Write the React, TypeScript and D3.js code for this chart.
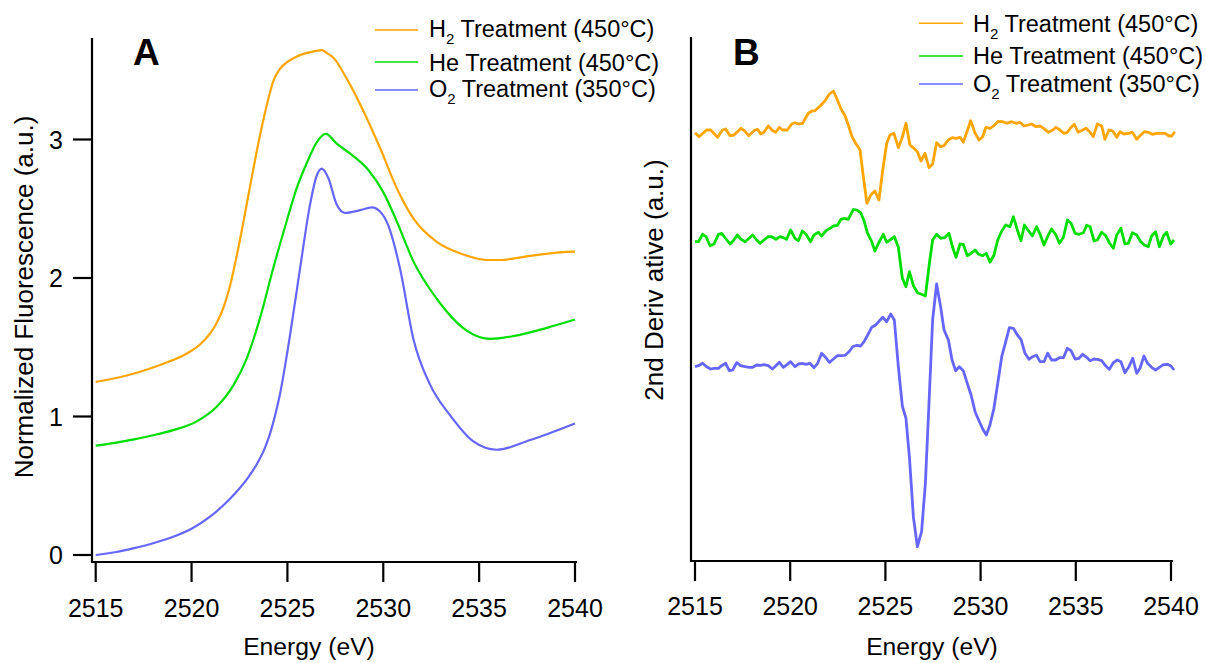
import React from 'react';
import * as d3 from 'd3';

// ---------- shared axis values ----------
const energyTicks = [2515, 2520, 2525, 2530, 2535, 2540];
const fluorTicks = [0, 1, 2, 3];

const seriesColors = ['#ffa500', '#00dd00', '#6666ff'];
const legendLabels = [
  { head: 'H', sub: '2', tail: ' Treatment (450°C)' },
  { head: 'He Treatment (450°C)', sub: '', tail: '' },
  { head: 'O', sub: '2', tail: ' Treatment (350°C)' },
];

// ---------- Panel A: normalized XANES [energy eV, fluorescence a.u.] ----------
const h2Xanes: [number, number][] = [
  [2515.0, 1.25], [2516.3, 1.285], [2517.0, 1.31], [2517.8, 1.345], [2518.6, 1.385],
  [2519.4, 1.43], [2520.0, 1.475], [2520.44, 1.52], [2521.0, 1.605], [2521.31, 1.675],
  [2521.7, 1.8], [2522.0, 1.94], [2522.53, 2.28], [2523.05, 2.66], [2523.57, 3.03],
  [2524.0, 3.29], [2524.26, 3.42], [2524.61, 3.51], [2525.0, 3.56], [2525.49, 3.6],
  [2526.18, 3.63], [2526.79, 3.645], [2527.1, 3.62], [2527.4, 3.59], [2528.09, 3.44],
  [2528.88, 3.23], [2529.83, 2.94], [2530.7, 2.65], [2531.57, 2.43], [2532.79, 2.26],
  [2534.18, 2.17], [2535.4, 2.13], [2536.09, 2.13], [2537.66, 2.16], [2539.91, 2.19],
  [2540.0, 2.19],
];

const heXanes: [number, number][] = [
  [2515.0, 0.79], [2516.0, 0.81], [2517.0, 0.835], [2518.0, 0.865], [2519.0, 0.9],
  [2520.27, 0.965], [2521.31, 1.07], [2522.18, 1.225], [2522.88, 1.42],
  [2523.57, 1.71], [2524.26, 2.07], [2524.96, 2.41], [2525.49, 2.65], [2526.01, 2.83],
  [2526.53, 2.98], [2527.0, 3.04], [2527.57, 2.97], [2528.44, 2.88], [2529.22, 2.78],
  [2530.0, 2.62], [2530.7, 2.41], [2531.57, 2.12], [2532.79, 1.85], [2534.35, 1.62],
  [2535.57, 1.56], [2536.78, 1.58], [2538.53, 1.64], [2540.0, 1.7],
];

const o2Xanes: [number, number][] = [
  [2515.0, 0.0], [2516.0, 0.02], [2517.0, 0.05], [2518.0, 0.085], [2519.0, 0.13],
  [2520.0, 0.19], [2521.0, 0.28], [2521.7, 0.365], [2522.3, 0.45], [2522.9, 0.55],
  [2523.4, 0.655], [2523.8, 0.765], [2524.09, 0.875], [2524.61, 1.16], [2525.14, 1.59],
  [2525.66, 2.07], [2526.18, 2.53], [2526.53, 2.74], [2526.79, 2.79], [2527.14, 2.72],
  [2527.57, 2.53], [2528.0, 2.47], [2528.79, 2.49], [2529.4, 2.51], [2529.83, 2.48],
  [2530.26, 2.38], [2530.87, 2.07], [2531.57, 1.56], [2532.44, 1.23], [2533.48, 1.01],
  [2534.7, 0.82], [2535.92, 0.76], [2537.66, 0.83], [2540.0, 0.95],
];

// ---------- Panel B: second derivative [energy eV, offset a.u.] ----------
const h2Deriv: [number, number][] = [
  [2515.0, 4.283], [2515.21, 4.243], [2515.61, 4.31], [2515.82, 4.31], [2516.19, 4.237],
  [2516.44, 4.31], [2516.61, 4.32], [2516.84, 4.253], [2517.05, 4.26], [2517.42, 4.327],
  [2517.59, 4.303], [2517.82, 4.253], [2518.15, 4.31], [2518.29, 4.317], [2518.45, 4.27],
  [2518.62, 4.287], [2518.85, 4.35], [2519.08, 4.303], [2519.24, 4.287], [2519.43, 4.337],
  [2519.6, 4.31], [2519.85, 4.31], [2520.08, 4.37], [2520.25, 4.383], [2520.43, 4.37],
  [2520.65, 4.377], [2520.95, 4.477], [2521.13, 4.5], [2521.3, 4.503], [2521.57, 4.55],
  [2521.83, 4.603], [2522.06, 4.67], [2522.27, 4.7], [2522.48, 4.61], [2522.67, 4.52],
  [2522.88, 4.453], [2523.05, 4.36], [2523.26, 4.237], [2523.44, 4.177], [2523.67, 4.11],
  [2523.84, 3.843], [2524.03, 3.577], [2524.23, 3.66], [2524.45, 3.7], [2524.66, 3.61],
  [2524.86, 3.91], [2525.07, 4.177], [2525.24, 4.26], [2525.45, 4.277], [2525.68, 4.133],
  [2525.89, 4.237], [2526.08, 4.377], [2526.29, 4.16], [2526.5, 4.127], [2526.68, 4.093],
  [2526.87, 4.0], [2527.08, 4.077], [2527.29, 3.933], [2527.48, 3.97], [2527.69, 4.183],
  [2527.9, 4.143], [2528.08, 4.153], [2528.3, 4.21], [2528.51, 4.233], [2528.71, 4.227],
  [2528.92, 4.237], [2529.09, 4.187], [2529.3, 4.303], [2529.48, 4.403], [2529.71, 4.277],
  [2529.92, 4.21], [2530.11, 4.243], [2530.28, 4.337], [2530.49, 4.327], [2530.7, 4.353],
  [2530.93, 4.397], [2531.16, 4.393], [2531.37, 4.377], [2531.63, 4.393], [2531.86, 4.377],
  [2532.07, 4.387], [2532.28, 4.35], [2532.51, 4.36], [2532.68, 4.37], [2532.91, 4.343],
  [2533.12, 4.35], [2533.33, 4.323], [2533.56, 4.287], [2533.79, 4.31], [2533.96, 4.337],
  [2534.17, 4.31], [2534.38, 4.277], [2534.56, 4.287], [2534.73, 4.333], [2534.92, 4.367],
  [2535.13, 4.287], [2535.36, 4.31], [2535.54, 4.327], [2535.75, 4.287], [2535.92, 4.243],
  [2536.13, 4.37], [2536.36, 4.35], [2536.53, 4.217], [2536.74, 4.31], [2536.94, 4.3],
  [2537.15, 4.237], [2537.32, 4.293], [2537.53, 4.27], [2537.76, 4.277], [2537.97, 4.287],
  [2538.2, 4.217], [2538.41, 4.26], [2538.6, 4.293], [2538.81, 4.287], [2539.02, 4.267],
  [2539.25, 4.277], [2539.46, 4.277], [2539.68, 4.277], [2539.9, 4.25], [2540.04, 4.25],
  [2540.2, 4.293],
];

const heDeriv: [number, number][] = [
  [2515.0, 3.193], [2515.18, 3.193], [2515.4, 3.267], [2515.58, 3.243], [2515.79, 3.153],
  [2516.0, 3.17], [2516.23, 3.267], [2516.4, 3.277], [2516.63, 3.22], [2516.84, 3.17],
  [2517.01, 3.203], [2517.22, 3.26], [2517.4, 3.22], [2517.63, 3.193], [2517.84, 3.227],
  [2518.03, 3.26], [2518.24, 3.21], [2518.41, 3.177], [2518.62, 3.21], [2518.85, 3.243],
  [2519.03, 3.243], [2519.25, 3.217], [2519.46, 3.243], [2519.64, 3.233], [2519.81, 3.217],
  [2520.02, 3.31], [2520.25, 3.227], [2520.43, 3.203], [2520.64, 3.3], [2520.83, 3.267],
  [2521.07, 3.193], [2521.25, 3.26], [2521.48, 3.287], [2521.65, 3.25], [2521.88, 3.303],
  [2522.09, 3.327], [2522.27, 3.35], [2522.48, 3.357], [2522.67, 3.417], [2522.84, 3.427],
  [2523.05, 3.417], [2523.32, 3.517], [2523.49, 3.51], [2523.7, 3.483], [2523.88, 3.403],
  [2524.05, 3.283], [2524.28, 3.193], [2524.45, 3.1], [2524.68, 3.193], [2524.89, 3.267],
  [2525.07, 3.187], [2525.29, 3.217], [2525.47, 3.243], [2525.68, 3.137], [2525.89, 2.827],
  [2526.08, 2.743], [2526.26, 2.893], [2526.47, 2.753], [2526.69, 2.683], [2526.9, 2.667],
  [2527.1, 2.65], [2527.31, 2.977], [2527.48, 3.21], [2527.69, 3.267], [2527.9, 3.227],
  [2528.13, 3.237], [2528.34, 3.277], [2528.53, 3.137], [2528.71, 3.037], [2528.92, 3.17],
  [2529.09, 3.167], [2529.3, 3.053], [2529.5, 3.077], [2529.71, 3.11], [2529.9, 3.067],
  [2530.11, 3.053], [2530.3, 3.077], [2530.49, 2.987], [2530.7, 3.057], [2530.9, 3.21],
  [2531.11, 3.3], [2531.32, 3.36], [2531.54, 3.343], [2531.72, 3.443], [2531.93, 3.31],
  [2532.12, 3.203], [2532.3, 3.36], [2532.51, 3.303], [2532.72, 3.25], [2532.94, 3.343],
  [2533.12, 3.27], [2533.33, 3.16], [2533.54, 3.253], [2533.73, 3.32], [2533.94, 3.267],
  [2534.14, 3.177], [2534.35, 3.237], [2534.56, 3.41], [2534.75, 3.377], [2534.96, 3.277],
  [2535.17, 3.267], [2535.4, 3.283], [2535.57, 3.357], [2535.75, 3.343], [2535.96, 3.2],
  [2536.13, 3.21], [2536.36, 3.287], [2536.57, 3.253], [2536.76, 3.183], [2536.97, 3.127],
  [2537.15, 3.26], [2537.37, 3.327], [2537.58, 3.17], [2537.76, 3.177], [2537.97, 3.283],
  [2538.2, 3.26], [2538.41, 3.193], [2538.6, 3.16], [2538.81, 3.143], [2538.98, 3.25],
  [2539.19, 3.293], [2539.39, 3.143], [2539.6, 3.25], [2539.77, 3.287], [2539.98, 3.17],
  [2540.16, 3.21],
];

const o2Deriv: [number, number][] = [
  [2515.0, 1.943], [2515.18, 1.953], [2515.4, 1.977], [2515.61, 1.943], [2515.82, 1.92],
  [2516.0, 1.927], [2516.23, 1.927], [2516.4, 1.953], [2516.61, 1.977], [2516.8, 1.903],
  [2516.98, 1.91], [2517.19, 1.983], [2517.4, 1.953], [2517.63, 1.943], [2517.84, 1.937],
  [2518.03, 1.937], [2518.24, 1.96], [2518.45, 1.957], [2518.62, 1.963], [2518.85, 1.953],
  [2519.06, 1.92], [2519.25, 1.953], [2519.43, 1.987], [2519.64, 1.937], [2519.85, 1.967],
  [2520.02, 1.993], [2520.25, 1.943], [2520.43, 1.97], [2520.64, 1.977], [2520.83, 1.967],
  [2521.04, 1.977], [2521.25, 1.933], [2521.44, 1.977], [2521.65, 2.077], [2521.83, 2.043],
  [2522.06, 1.987], [2522.27, 2.02], [2522.48, 2.053], [2522.67, 2.053], [2522.88, 2.057],
  [2523.09, 2.093], [2523.28, 2.143], [2523.49, 2.157], [2523.7, 2.15], [2523.88, 2.193],
  [2524.07, 2.26], [2524.28, 2.337], [2524.49, 2.36], [2524.66, 2.397], [2524.86, 2.437],
  [2525.07, 2.393], [2525.28, 2.47], [2525.47, 2.41], [2525.68, 1.943], [2525.89, 1.55],
  [2526.08, 1.427], [2526.26, 1.043], [2526.47, 0.443], [2526.68, 0.143], [2526.9, 0.293],
  [2527.1, 0.777], [2527.29, 1.577], [2527.48, 2.41], [2527.69, 2.77], [2527.9, 2.543],
  [2528.08, 2.31], [2528.31, 2.21], [2528.5, 2.01], [2528.69, 1.903], [2528.88, 1.943],
  [2529.09, 1.903], [2529.3, 1.777], [2529.5, 1.66], [2529.71, 1.493], [2529.9, 1.41],
  [2530.11, 1.32], [2530.3, 1.26], [2530.49, 1.36], [2530.7, 1.527], [2530.9, 1.777],
  [2531.11, 2.043], [2531.32, 2.193], [2531.51, 2.333], [2531.72, 2.327], [2531.93, 2.26],
  [2532.12, 2.217], [2532.33, 2.077], [2532.54, 2.017], [2532.73, 2.043], [2532.94, 2.057],
  [2533.12, 1.993], [2533.33, 1.993], [2533.52, 2.077], [2533.73, 2.01], [2533.94, 2.01],
  [2534.14, 2.033], [2534.35, 2.033], [2534.56, 2.127], [2534.75, 2.103], [2534.96, 2.02],
  [2535.17, 2.027], [2535.36, 2.067], [2535.57, 2.037], [2535.75, 2.003], [2535.96, 2.02],
  [2536.13, 2.017], [2536.36, 2.003], [2536.57, 1.95], [2536.76, 1.917], [2536.97, 1.983],
  [2537.18, 2.01], [2537.37, 1.993], [2537.58, 1.883], [2537.79, 1.943], [2537.99, 2.027],
  [2538.2, 1.877], [2538.37, 1.927], [2538.58, 2.05], [2538.77, 1.977], [2538.98, 1.937],
  [2539.19, 1.91], [2539.39, 1.937], [2539.6, 1.963], [2539.81, 1.967], [2540.0, 1.95],
  [2540.16, 1.91],
];

const FONT = "'Liberation Sans', Arial, Helvetica, sans-serif";
const W = 1206;
const H = 663;

// ---------- scales ----------
const xA = d3.scaleLinear().domain([2515, 2540]).range([95.7, 575]);
const yA = d3.scaleLinear().domain([0, 1]).range([555, 416.5]);
const xB = d3.scaleLinear().domain([2515, 2540]).range([695, 1171]);
const yB = d3.scaleLinear().domain([0, 5.24]).range([561, 37]);

const lineA = d3
  .line<[number, number]>()
  .x((d) => xA(d[0]))
  .y((d) => yA(d[1]))
  .curve(d3.curveMonotoneX);

const lineB = d3
  .line<[number, number]>()
  .x((d) => xB(d[0]))
  .y((d) => yB(d[1]));

const xanesSeries = [h2Xanes, heXanes, o2Xanes];
const derivSeries = [h2Deriv, heDeriv, o2Deriv];

function Legend({ lineX0, lineX1, textX, lineYs, baseYs }: {
  lineX0: number; lineX1: number; textX: number; lineYs: number[]; baseYs: number[];
}) {
  return (
    <g>
      {legendLabels.map((lab, i) => (
        <g key={i}>
          <line x1={lineX0} x2={lineX1} y1={lineYs[i]} y2={lineYs[i]} stroke={seriesColors[i]} strokeWidth={1.6} />
          <text x={textX} y={baseYs[i]} fontSize={23.5} fontFamily={FONT} fill="#000">
            {lab.head}
            {lab.sub ? (
              <>
                <tspan dy={7} fontSize={15}>{lab.sub}</tspan>
                <tspan dy={-7}>{lab.tail}</tspan>
              </>
            ) : null}
          </text>
        </g>
      ))}
    </g>
  );
}

export default function App() {
  return (
    <svg
      width={W}
      height={H}
      viewBox={`0 0 ${W} ${H}`}
      style={{ position: 'absolute', left: 0, top: 0, background: '#fff' }}
    >
      <rect x={0} y={0} width={W} height={H} fill="#fff" />

      {/* ===== Panel A ===== */}
      <g>
        {xanesSeries.map((s, i) => (
          <path key={i} d={lineA(s) || ''} fill="none" stroke={seriesColors[i]} strokeWidth={2.2} strokeLinejoin="round" />
        ))}
        {/* axes */}
        <line x1={92} x2={92} y1={38} y2={563} stroke="#000" strokeWidth={2.2} />
        <line x1={91} x2={577} y1={562} y2={562} stroke="#000" strokeWidth={2.2} />
        {fluorTicks.map((t) => (
          <g key={t}>
            <line x1={73} x2={92} y1={yA(t)} y2={yA(t)} stroke="#000" strokeWidth={2.2} />
            <text x={63} y={yA(t)} fontSize={25} fontFamily={FONT} textAnchor="end" dominantBaseline="central">
              {t}
            </text>
          </g>
        ))}
        {energyTicks.map((t) => (
          <g key={t}>
            <line x1={xA(t)} x2={xA(t)} y1={562} y2={582} stroke="#000" strokeWidth={2.2} />
            <text x={xA(t)} y={617} fontSize={25} fontFamily={FONT} textAnchor="middle">
              {t}
            </text>
          </g>
        ))}
        <text x={309} y={655} fontSize={24.7} fontFamily={FONT} textAnchor="middle">
          Energy (eV)
        </text>
        <text transform="translate(33,297) rotate(-90)" fontSize={26} fontFamily={FONT} textAnchor="middle">
          Normalized Fluorescence (a.u.)
        </text>
        <text x={133} y={65} fontSize={37} fontWeight="bold" fontFamily={FONT}>
          A
        </text>
        <Legend lineX0={375} lineX1={418} textX={429} lineYs={[30, 62, 90]} baseYs={[36.7, 70.7, 97.3]} />
      </g>

      {/* ===== Panel B ===== */}
      <g>
        {derivSeries.map((s, i) => (
          <path key={i} d={lineB(s) || ''} fill="none" stroke={seriesColors[i]} strokeWidth={2.8} strokeLinejoin="round" />
        ))}
        <line x1={691} x2={691} y1={37} y2={562} stroke="#000" strokeWidth={2.2} />
        <line x1={690} x2={1173} y1={561} y2={561} stroke="#000" strokeWidth={2.2} />
        {energyTicks.map((t) => (
          <g key={t}>
            <line x1={xB(t)} x2={xB(t)} y1={561} y2={581} stroke="#000" strokeWidth={2.2} />
            <text x={xB(t)} y={615} fontSize={25} fontFamily={FONT} textAnchor="middle">
              {t}
            </text>
          </g>
        ))}
        <text x={932} y={655} fontSize={24.7} fontFamily={FONT} textAnchor="middle">
          Energy (eV)
        </text>
        <text transform="translate(663,280) rotate(-90)" fontSize={26} fontFamily={FONT} textAnchor="middle">
          2nd Deriv ative (a.u.)
        </text>
        <text x={733} y={65} fontSize={37} fontWeight="bold" fontFamily={FONT}>
          B
        </text>
        <Legend lineX0={919} lineX1={963} textX={973} lineYs={[23.3, 56, 84]} baseYs={[31.7, 64, 92.3]} />
      </g>
    </svg>
  );
}
